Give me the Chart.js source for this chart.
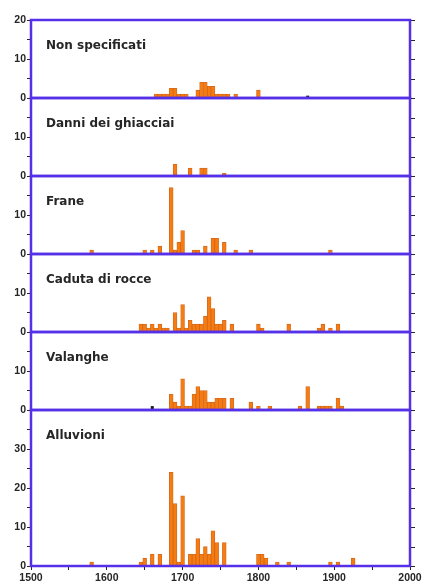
<!DOCTYPE html>
<html>
<head>
<meta charset="utf-8">
<script src="https://cdn.jsdelivr.net/npm/chart.js@4.4.0/dist/chart.umd.min.js"></script>
<style>
  html, body { margin: 0; padding: 0; background: #ffffff; }
  #wrap { position: relative; width: 425px; height: 586px; }
  canvas { display: block; }
</style>
</head>
<body>
<div id="wrap"><canvas id="c" width="425" height="586"></canvas></div>
<script>
// ---------- data (5-year bins, bar centred on the year) ----------
const panelTitles = ['Non specificati', 'Danni dei ghiacciai', 'Frane', 'Caduta di rocce', 'Valanghe', 'Alluvioni'];
const panelMax = [20, 20, 20, 20, 20, 40];
const panelWeights = [1, 1, 1, 1, 1, 2];

const nonSpecYears  = [1665,1670,1675,1680,1685,1690,1695,1700,1705,1720,1725,1730,1735,1740,1745,1750,1755,1760,1770,1800];
const nonSpecCounts = [1,1,1,1,2.5,2.5,1,1,1,2,4,4,3,3,1,1,1,1,1,2];

const ghiacciaiYears  = [1690,1710,1725,1730,1755];
const ghiacciaiCounts = [3,2,2,2,0.7];

const franeYears  = [1580,1650,1660,1670,1685,1690,1695,1700,1715,1720,1730,1740,1745,1755,1770,1790,1895];
const franeCounts = [1,1,1,2,17,1,3,6,1,1,2,4,4,3,1,1,1];

const rocceYears  = [1645,1650,1655,1660,1665,1670,1675,1680,1690,1695,1700,1705,1710,1715,1720,1725,1730,1735,1740,1745,1750,1755,1765,1800,1805,1840,1880,1885,1895,1905];
const rocceCounts = [2,2,1,2,1,2,1,1,5,1,7,1,3,2,2,2,4,9,6,2,2,3,2,2,1,2,1,2,1,2];

const valangheYears  = [1685,1690,1695,1700,1705,1710,1715,1720,1725,1730,1735,1740,1745,1750,1755,1765,1790,1800,1815,1855,1865,1880,1885,1890,1895,1905,1910];
const valangheCounts = [4,2,1,8,1,1,4,6,5,5,2,2,3,3,3,3,2,1,1,1,6,1,1,1,1,3,1];

const alluvioniYears  = [1580,1645,1650,1660,1670,1685,1690,1695,1700,1710,1715,1720,1725,1730,1735,1740,1745,1755,1800,1805,1810,1825,1840,1895,1905,1925];
const alluvioniCounts = [1,1,2,3,3,24,16,1,18,3,3,7,3,5,3,9,6,6,3,3,2,1,1,1,1,2];

// small dark marks
const darkYears  = [[1865], [], [], [], [1660], []];
const darkCounts = [[0.6],  [], [], [], [1],    []];

// ---------- styling ----------
const ORANGE = '#f67b10';
const EDGE = 'rgba(205,90,5,0.9)';
const FRAME = '#5530e8';
const TEXT = '#262626';
const tickFont = { family: "'Liberation Sans', Arial, sans-serif", size: 10.5, weight: 'bold' };

const series = [
  [nonSpecYears, nonSpecCounts],
  [ghiacciaiYears, ghiacciaiCounts],
  [franeYears, franeCounts],
  [rocceYears, rocceCounts],
  [valangheYears, valangheCounts],
  [alluvioniYears, alluvioniCounts]
];

const datasets = [];
series.forEach(([ys, cs], i) => {
  datasets.push({
    label: panelTitles[i],
    data: ys.map((x, j) => ({ x: x, y: cs[j] })),
    yAxisID: 'y' + i,
    backgroundColor: ORANGE,
    borderColor: EDGE,
    borderWidth: 0.8,
    grouped: false,
    barPercentage: 1,
    categoryPercentage: 1
  });
  if (darkYears[i].length) {
    datasets.push({
      label: panelTitles[i] + ' *',
      data: darkYears[i].map((x, j) => ({ x: x, y: darkCounts[i][j] })),
      yAxisID: 'y' + i,
      backgroundColor: '#1a1a1a',
      borderWidth: 0,
      grouped: false,
      barPercentage: 0.8,
      categoryPercentage: 1
    });
  }
});

const scales = {
  x: {
    type: 'linear',
    position: 'bottom',
    offset: false,
    min: 1500,
    max: 2000,
    ticks: {
      stepSize: 50,
      autoSkip: false,
      maxRotation: 0,
      padding: 2,
      color: TEXT,
      font: tickFont,
      callback: v => (v % 100 === 0 ? String(v) : '')
    },
    grid: { display: true, offset: false, drawOnChartArea: false, tickLength: 4, tickColor: TEXT, tickWidth: 1 },
    border: { display: false },
    afterFit: s => { s.height = 20; }
  }
};
panelMax.forEach((m, i) => {
  scales['y' + i] = {
    type: 'linear',
    position: 'left',
    stack: 'panels',
    stackWeight: panelWeights[i],
    weight: panelMax.length - i,
    min: 0,
    max: m,
    ticks: {
      stepSize: 5,
      autoSkip: false,
      padding: 1,
      color: TEXT,
      font: tickFont,
      callback: v => ((v % 10 === 0 && (i === 0 || v < m)) ? String(v) : '')
    },
    grid: { display: true, drawOnChartArea: false, tickLength: 4, tickColor: TEXT, tickWidth: 1 },
    border: { display: false },
    afterFit: s => { s.width = 31; }
  };
});

const framePlugin = {
  id: 'frames',
  afterDatasetsDraw(chart) {
    const ctx = chart.ctx;
    const a = chart.chartArea;
    ctx.save();
    panelTitles.forEach((title, i) => {
      const s = chart.scales['y' + i];
      // right-hand tick marks
      ctx.strokeStyle = TEXT;
      ctx.lineWidth = 1;
      s.ticks.forEach(t => {
        const y = Math.round(s.getPixelForValue(t.value)) + 0.5;
        ctx.beginPath();
        ctx.moveTo(a.right + 1, y);
        ctx.lineTo(a.right + 5, y);
        ctx.stroke();
      });
      // frame
      ctx.strokeStyle = FRAME;
      ctx.lineWidth = 2.5;
      ctx.strokeRect(a.left, s.top, a.right - a.left, s.bottom - s.top);
      // panel title
      ctx.fillStyle = TEXT;
      ctx.font = "bold 12px 'DejaVu Sans', sans-serif";
      ctx.textAlign = 'left';
      ctx.textBaseline = 'middle';
      ctx.fillText(title, a.left + 15, s.top + 26);
    });
    ctx.restore();
  }
};

new Chart(document.getElementById('c'), {
  type: 'bar',
  data: { datasets: datasets },
  options: {
    responsive: false,
    animation: false,
    devicePixelRatio: 1,
    layout: { padding: { top: 20, right: 15, left: 0, bottom: 0 } },
    plugins: { legend: { display: false }, tooltip: { enabled: false } },
    scales: scales
  },
  plugins: [framePlugin]
});
</script>
</body>
</html>
